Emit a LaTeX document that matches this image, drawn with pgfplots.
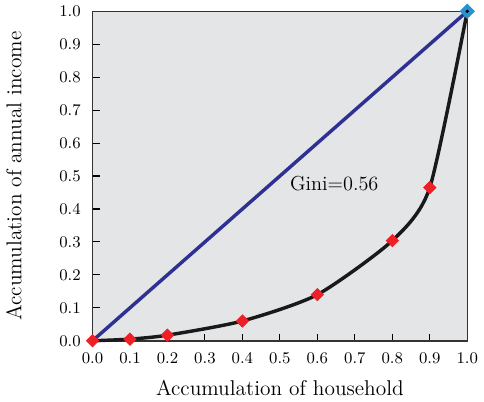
\documentclass[border=0pt]{standalone}
\usepackage{pgfplots}
\pgfplotsset{compat=1.18}
\definecolor{bgGray}{RGB}{228,229,231}
\definecolor{diagBlue}{RGB}{46,49,146}
\definecolor{ptRed}{RGB}{237,32,40}
\definecolor{endBlue}{RGB}{39,146,210}

\begin{document}
\begin{tikzpicture}
\begin{axis}[
    width=207pt, height=182pt,
    scale only axis,
    xmin=0, xmax=1, ymin=0, ymax=1,
    axis background/.style={fill=bgGray},
    axis line style={line width=0.8pt, black!80},
    xtick={0,0.1,...,1.0}, ytick={0,0.1,...,1.0},
    xticklabel style={/pgf/number format/.cd, fixed, fixed zerofill, precision=1, /tikz/.cd, yshift=-3.3pt},
    yticklabel style={/pgf/number format/.cd, fixed, fixed zerofill, precision=1, /tikz/.cd, xshift=-3pt},
    tick label style={font=\fontsize{9.3}{11}\selectfont},
    tick align=inside,
    xtick pos=bottom, ytick pos=left,
    major tick length=4pt,
    tick style={black, line width=0.6pt},
    xlabel={Accumulation of household},
    ylabel={Accumulation of annual income},
    label style={font=\fontsize{11.8}{14}\selectfont},
    xlabel style={yshift=-2.2pt},
    ylabel style={yshift=14pt},
    clip=false,
]
\addplot[diagBlue, line width=1.9pt] coordinates {(0,0) (1,1)};
\addplot[black!90, line width=1.9pt, smooth, tension=0.4] coordinates {
    (0,0) (0.1,0.005) (0.2,0.017) (0.4,0.06) (0.6,0.14) (0.8,0.304) (0.9,0.465) (1.0,1.0)
};
\addplot[only marks, mark=square*, mark size=2.4pt, mark options={rotate=45, draw=ptRed, fill=ptRed}] coordinates {
    (0,0) (0.1,0.005) (0.2,0.017) (0.4,0.06) (0.6,0.14) (0.8,0.304) (0.9,0.465)
};
\addplot[only marks, mark=square*, mark size=2.8pt, mark options={rotate=45, draw=endBlue, fill=endBlue}] coordinates {(1,1)};
\addplot[only marks, mark=*, mark size=0.7pt, black] coordinates {(1,1)};
\node[font=\fontsize{11.2}{13}\selectfont] at (axis cs:0.645,0.477) {Gini=0.56};
\end{axis}
\end{tikzpicture}
\end{document}
